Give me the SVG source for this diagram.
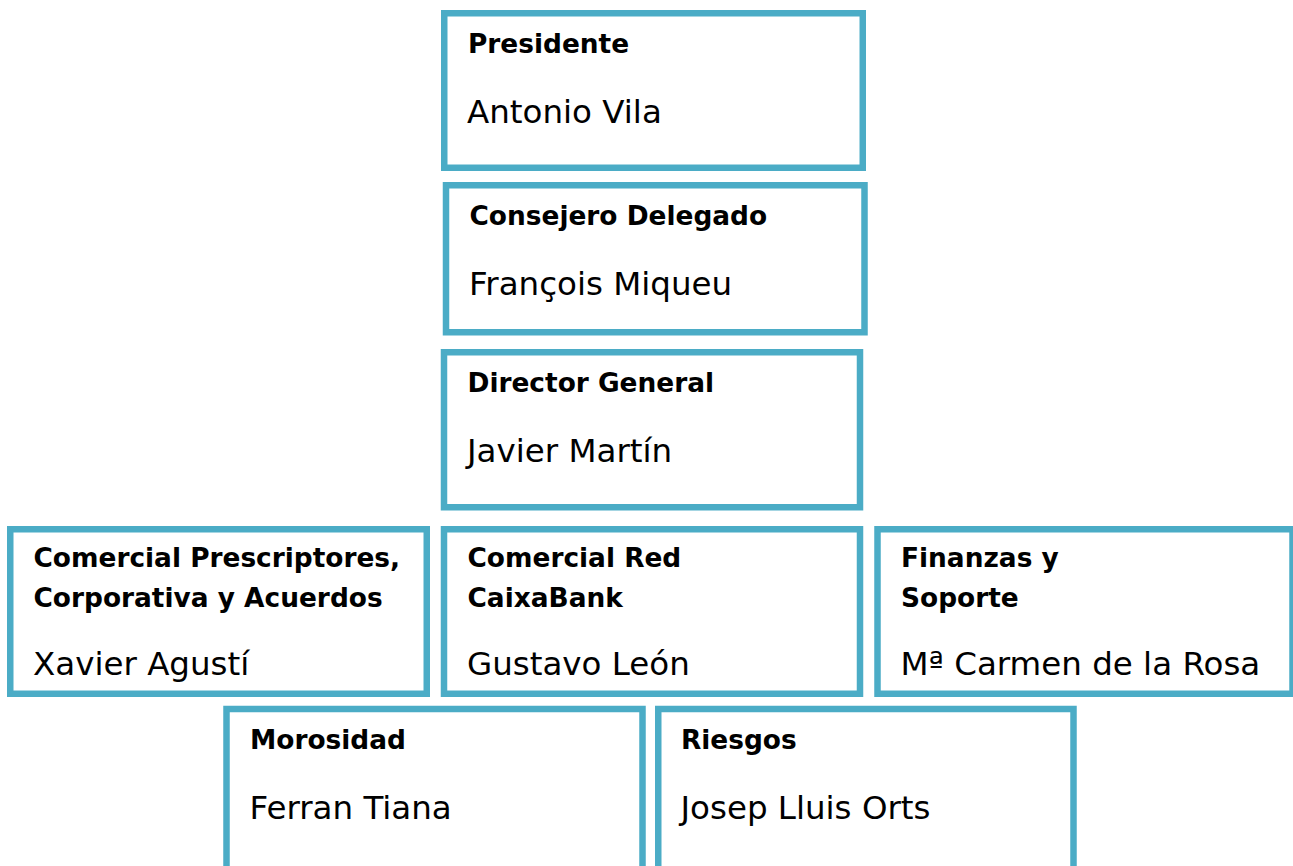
<svg xmlns="http://www.w3.org/2000/svg" width="1293" height="866" viewBox="0 0 1293 866">
<style>
.box{fill:#ffffff;stroke:#4BACC6;stroke-width:6.5}
.t{font-family:"DejaVu Sans",Verdana,sans-serif;font-weight:bold;font-size:26.4px;fill:#000}
.n{font-family:"DejaVu Sans",Verdana,sans-serif;font-size:32.5px;fill:#000}
</style>
<rect width="1293" height="866" fill="#ffffff"/>
<g id="connectors"></g>
<g id="presidente">
<rect class="box" x="444.25" y="13.25" width="418.5" height="154.5"/>
<text class="t" x="468" y="53">Presidente</text>
<text class="n" x="467" y="123">Antonio Vila</text>
</g>
<g id="consejero">
<rect class="box" x="446" y="185.25" width="418.5" height="147"/>
<text class="t" x="469.5" y="225">Consejero Delegado</text>
<text class="n" x="469" y="295">François Miqueu</text>
</g>
<g id="director">
<rect class="box" x="444" y="352.25" width="416" height="155"/>
<text class="t" x="467.5" y="392">Director General</text>
<text class="n" x="467" y="462">Javier Martín</text>
</g>
<g id="prescriptores">
<rect class="box" x="10.25" y="529.25" width="416.5" height="164.5"/>
<text class="t" x="33.5" y="567">Comercial Prescriptores,</text>
<text class="t" x="33.5" y="607">Corporativa y Acuerdos</text>
<text class="n" x="33" y="675">Xavier Agustí</text>
</g>
<g id="red-caixabank">
<rect class="box" x="444" y="529.25" width="416" height="164.5"/>
<text class="t" x="467.5" y="567">Comercial Red</text>
<text class="t" x="467.5" y="607">CaixaBank</text>
<text class="n" x="467" y="675">Gustavo León</text>
</g>
<g id="finanzas">
<rect class="box" x="877.5" y="529.25" width="415" height="164.5"/>
<text class="t" x="901" y="567">Finanzas y</text>
<text class="t" x="901" y="607">Soporte</text>
<text class="n" x="900.5" y="675">Mª Carmen de la Rosa</text>
</g>
<g id="morosidad">
<rect class="box" x="226.5" y="709" width="416" height="170"/>
<text class="t" x="250" y="748.5">Morosidad</text>
<text class="n" x="249.5" y="818.5">Ferran Tiana</text>
</g>
<g id="riesgos">
<rect class="box" x="658.25" y="709" width="415.25" height="170"/>
<text class="t" x="681" y="748.5">Riesgos</text>
<text class="n" x="680.5" y="818.5">Josep Lluis Orts</text>
</g>
</svg>
